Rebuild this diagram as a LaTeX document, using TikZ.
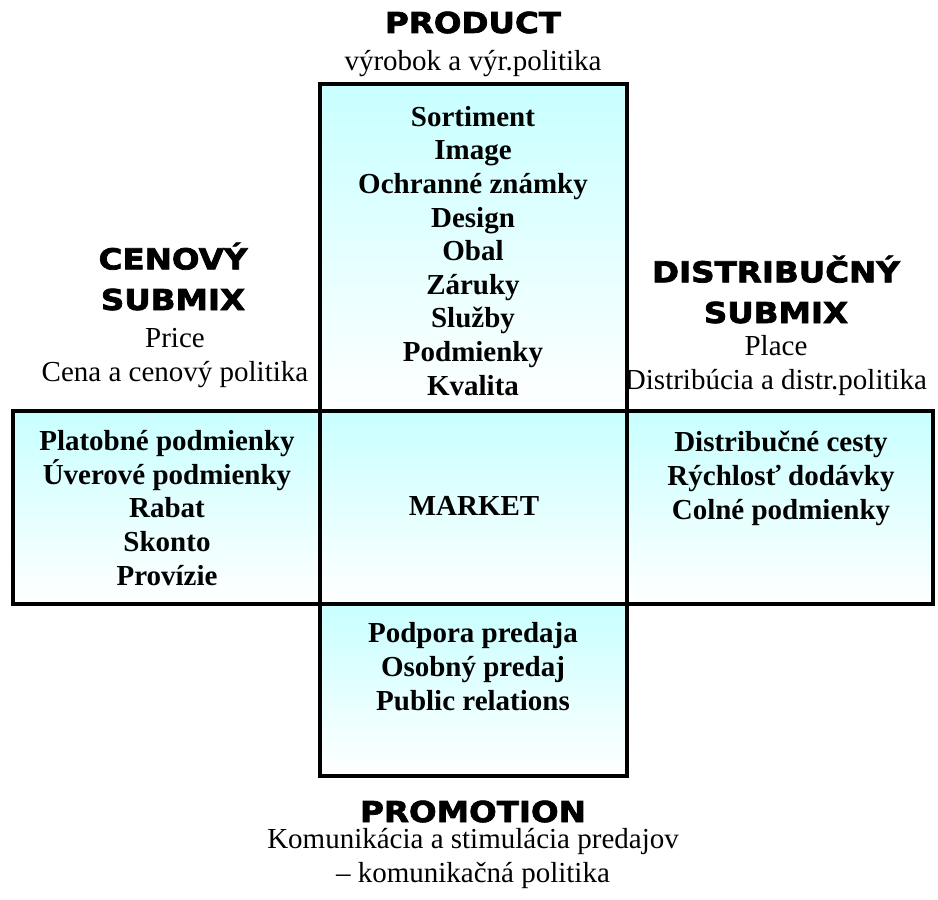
\documentclass[tikz,border=0pt]{standalone}
\usepackage{fontspec}
\setmainfont{Liberation Serif}
\newfontfamily\headfont{DejaVu Sans}[FakeStretch=1.13, BoldFeatures={FakeBold=2.5}]
\usepackage{xcolor}
\usetikzlibrary{positioning}
\definecolor{boxcyan}{RGB}{200,255,255}

\begin{document}
\begin{tikzpicture}[x=0.75pt, y=-0.75pt,
    heading/.style={font=\headfont\bfseries\fontsize{21.6}{30.5}\selectfont, anchor=base, align=center, inner sep=0pt},
    subtext/.style={font=\fontsize{21.75}{25}\selectfont, anchor=base, align=center, inner sep=0pt},
    item/.style={font=\bfseries\fontsize{21.75}{25.2}\selectfont, anchor=base, align=center, inner sep=0pt},
    cell/.style={top color=boxcyan, bottom color=white}]
        \useasboundingbox (0,0) rectangle (938,899);

        % Shaded cells
        \shade[cell] (320,84) rectangle (627,411);
        \shade[cell] (13,411) rectangle (320,604);
        \shade[cell] (320,411) rectangle (627,604);
        \shade[cell] (627,411) rectangle (933,604);
        \shade[cell] (320,604) rectangle (627,776);

        % Cross outline
        \draw[line width=2.6pt] (320,84) rectangle (627,776);
        \draw[line width=2.6pt] (13,411) rectangle (933,604);

        % Product (multi-line nodes sit on their last baseline)
        \node[heading] (product) at (473,33) {PRODUCT};
        \node[subtext] (productsub) at (473,70) {výrobok a výr.politika};
        \node[item] (productitems) at (473,395) {Sortiment\\Image\\Ochranné známky\\Design\\Obal\\Záruky\\Služby\\Podmienky\\Kvalita};

        % Price
        \node[heading] (price) at (173,310) {CENOVÝ\\SUBMIX};
        \node[subtext] (pricesub) at (175,381) {Price\\Cena a cenový politika};
        \node[item] (priceitems) at (167,585) {Platobné podmienky\\Úverové podmienky\\Rabat\\Skonto\\Provízie};

        % Place
        \node[heading] (place) at (776,323) {DISTRIBUČNÝ\\SUBMIX};
        \node[subtext] (placesub) at (776,389) {Place\\Distribúcia a distr.politika};
        \node[item] (placeitems) at (781,519) {Distribučné cesty\\Rýchlosť dodávky\\Colné podmienky};

        % Market
        \node[item] (market) at (474,515) {MARKET};

        % Promotion
        \node[item] (promoitems) at (473,710) {Podpora predaja\\Osobný predaj\\Public relations};
        \node[heading] (promotion) at (473,822) {PROMOTION};
        \node[subtext] (promosub) at (473,882) {Komunikácia a stimulácia predajov\\– komunikačná politika};
\end{tikzpicture}
\end{document}
